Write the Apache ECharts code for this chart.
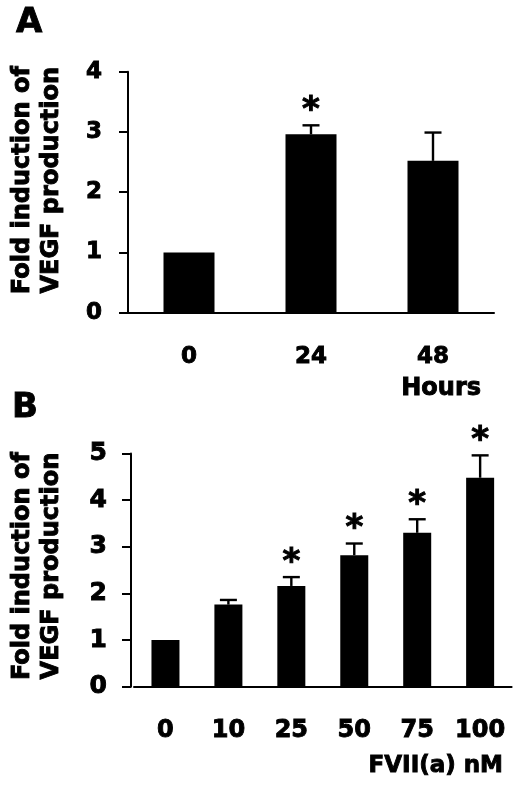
<!DOCTYPE html>
<html>
<head>
<meta charset="utf-8">
<script src="https://cdn.jsdelivr.net/npm/echarts@6/dist/echarts.min.js"></script>
<style>
  html, body { margin: 0; padding: 0; background: #fff; }
  #chart { width: 520px; height: 786px; }
</style>
</head>
<body>
<div id="chart"></div>
<script>
// panel A: time course
const hoursCats = ['0', '24', '48']
const hoursMean = [1.0, 2.96, 2.52]
const hoursSd = [0, 0.15, 0.47]
const hoursStar = [false, true, false]

// panel B: dose response
const doseCats = ['0', '10', '25', '50', '75', '100']
const doseMean = [1.0, 1.76, 2.16, 2.82, 3.30, 4.48]
const doseSd = [0, 0.10, 0.19, 0.25, 0.29, 0.48]
const doseStar = [false, false, true, true, true, true]

const FONT = 'DejaVu Sans'
const yTitle = 'Fold induction of\nVEGF production'

// build [index, mean, sd, star] rows for the error bar series
function errRows(mean, sd, star) {
    let rows = []
    for (let i = 0; i < mean.length; i++) {
        rows.push([i, mean[i], sd[i], star[i] ? 1 : 0])
    }
    return rows
}

function renderErr(params, api) {
    let idx = api.value(0)
    let mean = api.value(1)
    let sd = api.value(2)
    let star = api.value(3)
    let base = api.coord([idx, mean])
    let top = api.coord([idx, mean + sd])
    let children = []
    if (sd > 0) {
        children.push({
            type: 'line',
            shape: { x1: base[0], y1: base[1], x2: top[0], y2: top[1] },
            style: { stroke: '#000', lineWidth: 2.4 }
        })
        children.push({
            type: 'line',
            shape: { x1: top[0] - 8.5, y1: top[1], x2: top[0] + 8.5, y2: top[1] },
            style: { stroke: '#000', lineWidth: 2.4 }
        })
    }
    if (star) {
        children.push({
            type: 'text',
            x: top[0],
            y: top[1] + 3,
            style: {
                text: '*',
                fill: '#000',
                stroke: '#000',
                lineWidth: 1,
                font: 'bold 34px "' + FONT + '"',
                textAlign: 'center',
                textVerticalAlign: 'bottom'
            }
        })
    }
    return { type: 'group', children: children }
}

function yAxisFor(gridIndex, max, margin, offset, pad, size) {
    return {
        type: 'value',
        gridIndex: gridIndex,
        min: 0,
        max: max,
        interval: 1,
        offset: offset,
        name: yTitle,
        nameLocation: 'middle',
        nameRotate: 90,
        nameGap: 62 + offset,
        nameTextStyle: {
            fontFamily: FONT, fontWeight: 'bold', fontSize: 24, color: '#000',
            textBorderColor: '#000', textBorderWidth: 0.9,
            lineHeight: 29, padding: [0, 0, 0, pad]
        },
        axisLine: { show: true, lineStyle: { color: '#000', width: 2 } },
        axisTick: { show: true, length: 9, lineStyle: { color: '#000', width: 2 } },
        axisLabel: {
            margin: margin, fontFamily: FONT, fontWeight: 'bold', fontSize: size, color: '#000',
            textBorderColor: '#000', textBorderWidth: 0.9
        },
        splitLine: { show: false }
    }
}

function xAxisFor(gridIndex, cats, margin, size) {
    return {
        type: 'category',
        gridIndex: gridIndex,
        data: cats,
        axisLine: { show: true, lineStyle: { color: '#000', width: 2 } },
        axisTick: { show: false },
        axisLabel: {
            interval: 0, hideOverlap: false,
            margin: margin, fontFamily: FONT, fontWeight: 'bold', fontSize: size, color: '#000',
            textBorderColor: '#000', textBorderWidth: 0.9
        }
    }
}

function label(x, y, text, size, align) {
    return {
        type: 'text', x: x, y: y,
        style: {
            text: text, textAlign: align, fill: '#000', stroke: '#000', lineWidth: 0.9,
            font: 'bold ' + size + 'px "' + FONT + '"'
        }
    }
}

var dom = document.getElementById('chart')
var chart = echarts.init(dom, null, { renderer: 'canvas' })

var option = {
    backgroundColor: '#fff',
    animation: false,
    grid: [
        { left: 126, right: 26, top: 71.7, bottom: 473.3 },
        { left: 133, right: 8.4, top: 453.5, bottom: 99.3 }
    ],
    xAxis: [
        xAxisFor(0, hoursCats, 33, 23),
        xAxisFor(1, doseCats, 32, 24)
    ],
    yAxis: [
        yAxisFor(0, 4, 26, 0, 24, 23),
        yAxisFor(1, 5, 24, 3, 8, 25)
    ],
    series: [
        {
            type: 'bar', xAxisIndex: 0, yAxisIndex: 0,
            data: hoursMean, barWidth: 51,
            itemStyle: { color: '#000' }
        },
        {
            type: 'custom', xAxisIndex: 0, yAxisIndex: 0,
            data: errRows(hoursMean, hoursSd, hoursStar),
            renderItem: renderErr, z: 5
        },
        {
            type: 'bar', xAxisIndex: 1, yAxisIndex: 1,
            data: doseMean, barWidth: 28,
            itemStyle: { color: '#000' }
        },
        {
            type: 'custom', xAxisIndex: 1, yAxisIndex: 1,
            data: errRows(doseMean, doseSd, doseStar),
            renderItem: renderErr, z: 5
        }
    ],
    graphic: [
        label(16, 6, 'A', 34, 'left'),
        label(12, 391, 'B', 34, 'left'),
        label(481, 377, 'Hours', 24, 'right'),
        label(503, 755, 'FVII(a) nM', 23, 'right')
    ]
}

chart.setOption(option)
window.addEventListener('resize', chart.resize)
</script>
</body>
</html>
